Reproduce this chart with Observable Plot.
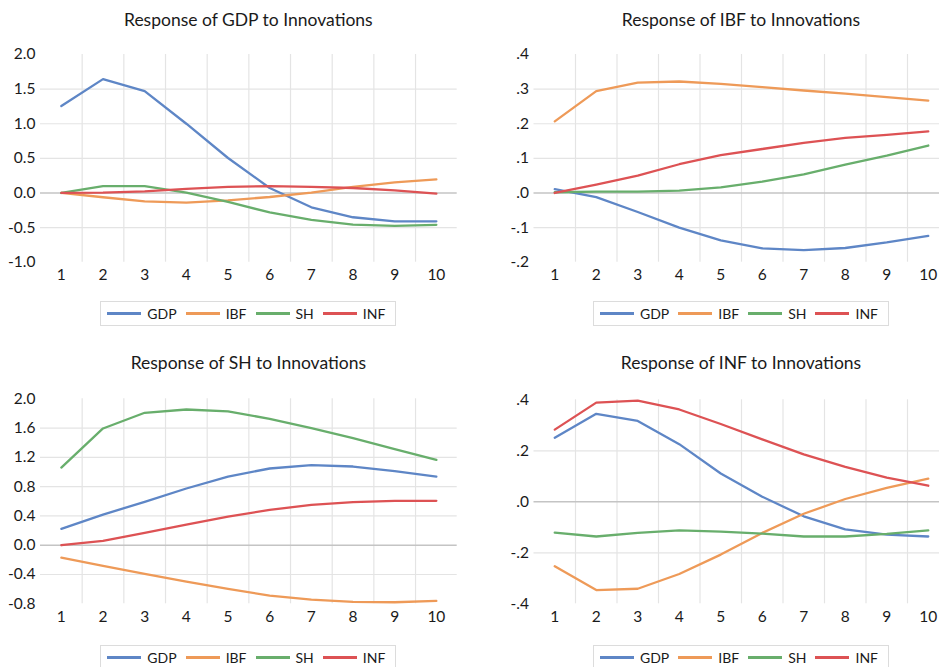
<!DOCTYPE html>
<html>
<head>
<meta charset="utf-8">
<script src="https://cdn.jsdelivr.net/npm/d3@7"></script>
<script src="https://cdn.jsdelivr.net/npm/@observablehq/plot@0.6"></script>
<style>
  html, body { margin: 0; padding: 0; width: 939px; height: 667px; overflow: hidden; background: #fff; }
  body { position: relative; font-family: Lato, "Open Sans", sans-serif; color: #1a1a1a; }
  .title { position: absolute; text-align: center; font-size: 17.5px; line-height: 24px; white-space: nowrap; }
  .chart { position: absolute; }
  .legend { position: absolute; transform: translateX(-50%); border: 1px solid #dcdcdc; height: 23px;
            display: flex; align-items: center; padding: 0 10px 0 6px; font-size: 14px; white-space: nowrap; background: #fff; }
  .legend .item { display: flex; align-items: center; margin-right: 9px; }
  .legend .item:last-child { margin-right: 0; }
  .legend .sw { width: 34px; height: 3px; margin-right: 6px; }
</style>
</head>
<body>
<script>
// ---- data ----
const periods = [1, 2, 3, 4, 5, 6, 7, 8, 9, 10];
const seriesNames = ["GDP", "IBF", "SH", "INF"];
const seriesColors = ["#5E86C6", "#EE9A58", "#68AE6C", "#DD5254"];

// Response of GDP to innovations
const gdpToGDP = [1.255, 1.644, 1.471, 1.00, 0.505, 0.072, -0.207, -0.351, -0.409, -0.409];
const gdpToIBF = [0.0, -0.062, -0.12, -0.14, -0.106, -0.058, 0.005, 0.087, 0.154, 0.197];
const gdpToSH  = [0.0, 0.10, 0.10, 0.005, -0.13, -0.28, -0.39, -0.457, -0.476, -0.46];
const gdpToINF = [0.0, 0.005, 0.024, 0.058, 0.087, 0.10, 0.087, 0.072, 0.038, -0.01];

// Response of IBF to innovations
const ibfToGDP = [0.011, -0.012, -0.055, -0.10, -0.137, -0.16, -0.165, -0.159, -0.143, -0.124];
const ibfToIBF = [0.207, 0.294, 0.319, 0.322, 0.315, 0.306, 0.296, 0.287, 0.277, 0.267];
const ibfToSH  = [0.002, 0.004, 0.004, 0.007, 0.016, 0.033, 0.054, 0.082, 0.108, 0.137];
const ibfToINF = [0.0, 0.024, 0.05, 0.083, 0.109, 0.127, 0.145, 0.159, 0.168, 0.178];

// Response of SH to innovations
const shToGDP = [0.223, 0.419, 0.592, 0.775, 0.938, 1.048, 1.093, 1.075, 1.011, 0.938];
const shToIBF = [-0.169, -0.282, -0.392, -0.497, -0.597, -0.688, -0.743, -0.775, -0.779, -0.761];
const shToSH  = [1.061, 1.595, 1.809, 1.854, 1.827, 1.727, 1.599, 1.462, 1.312, 1.166];
const shToINF = [0.0, 0.059, 0.169, 0.282, 0.392, 0.483, 0.551, 0.588, 0.606, 0.606];

// Response of INF to innovations
const infToGDP = [0.251, 0.345, 0.317, 0.226, 0.111, 0.02, -0.057, -0.108, -0.129, -0.136];
const infToIBF = [-0.253, -0.346, -0.341, -0.283, -0.207, -0.122, -0.047, 0.011, 0.055, 0.091];
const infToSH  = [-0.121, -0.136, -0.122, -0.112, -0.117, -0.125, -0.136, -0.136, -0.126, -0.112];
const infToINF = [0.283, 0.389, 0.397, 0.362, 0.305, 0.245, 0.186, 0.137, 0.095, 0.063];

// axis ticks and labels
const yTicksGDP = [-1.0, -0.5, 0.0, 0.5, 1.0, 1.5, 2.0];
const yLabelsGDP = ["-1.0", "-0.5", "0.0", "0.5", "1.0", "1.5", "2.0"];
const yTicksIBF = [-0.2, -0.1, 0.0, 0.1, 0.2, 0.3, 0.4];
const yLabelsIBF = ["-.2", "-.1", ".0", ".1", ".2", ".3", ".4"];
const yTicksSH = [-0.8, -0.4, 0.0, 0.4, 0.8, 1.2, 1.6, 2.0];
const yLabelsSH = ["-0.8", "-0.4", "0.0", "0.4", "0.8", "1.2", "1.6", "2.0"];
const yTicksINF = [-0.4, -0.2, 0.0, 0.2, 0.4];
const yLabelsINF = [ "-.4", "-.2", ".0", ".2", ".4"];
const xLabels = ["1", "2", "3", "4", "5", "6", "7", "8", "9", "10"];
const titles = ["Response of GDP to Innovations", "Response of IBF to Innovations",
                "Response of SH to Innovations", "Response of INF to Innovations"];

// ---- layout ----
const panels = [
  { title: titles[0], series: [gdpToGDP, gdpToIBF, gdpToSH, gdpToINF], ticks: yTicksGDP, labels: yLabelsGDP,
    left: 0, top: 40, width: 470, height: 250, ml: 40, mr: 13.3, mt: 14, mb: 28.3, titleTop: 8, legendTop: 301 },
  { title: titles[1], series: [ibfToGDP, ibfToIBF, ibfToSH, ibfToINF], ticks: yTicksIBF, labels: yLabelsIBF,
    left: 470, top: 40, width: 480, height: 250, ml: 63.5, mr: 1.5, mt: 14, mb: 28.3, titleTop: 8, legendTop: 301 },
  { title: titles[2], series: [shToGDP, shToIBF, shToSH, shToINF], ticks: yTicksSH, labels: yLabelsSH,
    left: 0, top: 380, width: 470, height: 250, ml: 40, mr: 13.3, mt: 18.3, mb: 26.7, titleTop: 350.5, legendTop: 645 },
  { title: titles[3], series: [infToGDP, infToIBF, infToSH, infToINF], ticks: yTicksINF, labels: yLabelsINF,
    left: 470, top: 380, width: 480, height: 250, ml: 63.5, mr: 1.5, mt: 19.3, mb: 26.7, titleTop: 350.5, legendTop: 645 }
];

const gridX = periods.slice(0, -1).map(p => p + 0.5);

for (const p of panels) {
  const rows = [];
  seriesNames.forEach((s, k) => p.series[k].forEach((v, i) => rows.push({ period: periods[i], value: v, series: s })));
  const ymin = p.ticks[0], ymax = p.ticks[p.ticks.length - 1];
  const chart = Plot.plot({
    width: p.width, height: p.height,
    marginLeft: p.ml, marginRight: p.mr, marginTop: p.mt, marginBottom: p.mb,
    x: { domain: [0.5, 10.5], axis: null },
    y: { domain: [ymin, ymax], axis: null },
    color: { domain: seriesNames, range: seriesColors },
    style: { fontFamily: "Lato, 'Open Sans', sans-serif", fontSize: "15.5px", color: "#1a1a1a", background: "transparent", overflow: "visible" },
    marks: [
      Plot.ruleY(p.ticks.filter(t => t !== 0 && t !== ymin && t !== ymax), { stroke: "#e4e4e4", strokeWidth: 1.2 }),
      Plot.ruleX(gridX, { stroke: "#e4e4e4", strokeWidth: 1.2 }),
      Plot.ruleY([0], { stroke: "#c4c4c4", strokeWidth: 1.6 }),
      Plot.line(rows, { x: "period", y: "value", z: "series", stroke: "series", strokeWidth: 2.3, curve: "linear" }),
      Plot.axisX({ ticks: periods, tickSize: 0, tickPadding: 7, label: null, tickFormat: d => xLabels[periods.indexOf(d)] }),
      Plot.axisY({ ticks: p.ticks, tickSize: 0, tickPadding: 5, label: null, tickFormat: d => p.labels[p.ticks.indexOf(d)] })
    ]
  });
  chart.classList.add("chart");
  chart.style.left = p.left + "px";
  chart.style.top = p.top + "px";
  document.body.appendChild(chart);

  const plotLeft = p.left + p.ml, plotRight = p.left + p.width - p.mr;
  const center = (plotLeft + plotRight) / 2;

  const t = document.createElement("div");
  t.className = "title";
  t.textContent = p.title;
  t.style.left = (center - 200) + "px";
  t.style.width = "400px";
  t.style.top = p.titleTop + "px";
  document.body.appendChild(t);

  const lg = document.createElement("div");
  lg.className = "legend";
  lg.style.left = center + "px";
  lg.style.top = p.legendTop + "px";
  seriesNames.forEach((s, k) => {
    const it = document.createElement("div");
    it.className = "item";
    const sw = document.createElement("div");
    sw.className = "sw";
    sw.style.background = seriesColors[k];
    const tx = document.createElement("span");
    tx.textContent = s;
    it.appendChild(sw); it.appendChild(tx);
    lg.appendChild(it);
  });
  document.body.appendChild(lg);
}
</script>
</body>
</html>
